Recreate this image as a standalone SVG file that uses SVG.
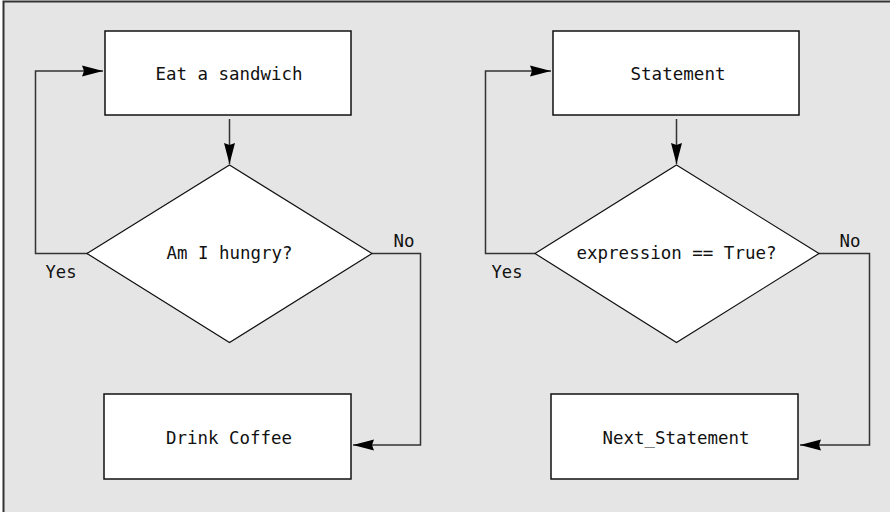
<svg xmlns="http://www.w3.org/2000/svg" width="890" height="512" viewBox="0 0 890 512">
  <style>
    .box { fill: #ffffff; stroke: #111111; stroke-width: 1.5; }
    .dia { fill: #ffffff; stroke: #111111; stroke-width: 1.2; }
    .conn { fill: none; stroke: #333333; stroke-width: 1.5; }
    .lbl { font-family: "DejaVu Sans Mono", "Liberation Mono", monospace; font-size: 18.5px; fill: #111111; text-anchor: middle; }
  </style>
  <defs>
    <marker id="arr" markerUnits="userSpaceOnUse" markerWidth="22" markerHeight="12" refX="21" refY="6" orient="auto">
      <path d="M0,0.5 L21,6 L0,11.5 L2,6 z" fill="#000000"/>
    </marker>
  </defs>
  <rect x="3.5" y="1.5" width="900" height="520" fill="#e5e5e5" stroke="#333333" stroke-width="2"/>

  <g id="connectors">
    <line class="conn" x1="229.5" y1="119" x2="229.5" y2="164" marker-end="url(#arr)"/>
    <polyline class="conn" points="88,253.5 35.5,253.5 35.5,71 103,71" marker-end="url(#arr)"/>
    <polyline class="conn" points="372,253.5 420.5,253.5 420.5,445 353,445" marker-end="url(#arr)"/>
    <line class="conn" x1="676.5" y1="119" x2="676.5" y2="164" marker-end="url(#arr)"/>
    <polyline class="conn" points="535,253.5 485.5,253.5 485.5,71 551,71" marker-end="url(#arr)"/>
    <polyline class="conn" points="819,253.5 869.5,253.5 869.5,445 800,445" marker-end="url(#arr)"/>
    <text class="lbl" x="61" y="278" textLength="31" lengthAdjust="spacingAndGlyphs">Yes</text>
    <text class="lbl" x="404" y="247" textLength="21" lengthAdjust="spacingAndGlyphs">No</text>
    <text class="lbl" x="507" y="278" textLength="31" lengthAdjust="spacingAndGlyphs">Yes</text>
    <text class="lbl" x="850" y="247" textLength="21" lengthAdjust="spacingAndGlyphs">No</text>
  </g>

  <g id="eat">
    <rect class="box" x="105" y="31" width="246" height="84"/>
    <text class="lbl" x="229" y="80" textLength="147" lengthAdjust="spacingAndGlyphs">Eat a sandwich</text>
  </g>
  <g id="hungry">
    <polygon class="dia" points="229.5,165 372,253.5 229.5,342.5 87,253.5"/>
    <text class="lbl" x="229.5" y="259" textLength="126" lengthAdjust="spacingAndGlyphs">Am I hungry?</text>
  </g>
  <g id="coffee">
    <rect class="box" x="104" y="394" width="247" height="85"/>
    <text class="lbl" x="229" y="444" textLength="126" lengthAdjust="spacingAndGlyphs">Drink Coffee</text>
  </g>

  <g id="statement">
    <rect class="box" x="553" y="31" width="246" height="84"/>
    <text class="lbl" x="678" y="80" textLength="95" lengthAdjust="spacingAndGlyphs">Statement</text>
  </g>
  <g id="expr">
    <polygon class="dia" points="676.5,165 819,253.5 676.5,342.5 535,253.5"/>
    <text class="lbl" x="676.5" y="259" textLength="200" lengthAdjust="spacingAndGlyphs">expression == True?</text>
  </g>
  <g id="next">
    <rect class="box" x="551" y="394" width="247" height="85"/>
    <text class="lbl" x="676" y="444" textLength="147" lengthAdjust="spacingAndGlyphs">Next_Statement</text>
  </g>
</svg>
